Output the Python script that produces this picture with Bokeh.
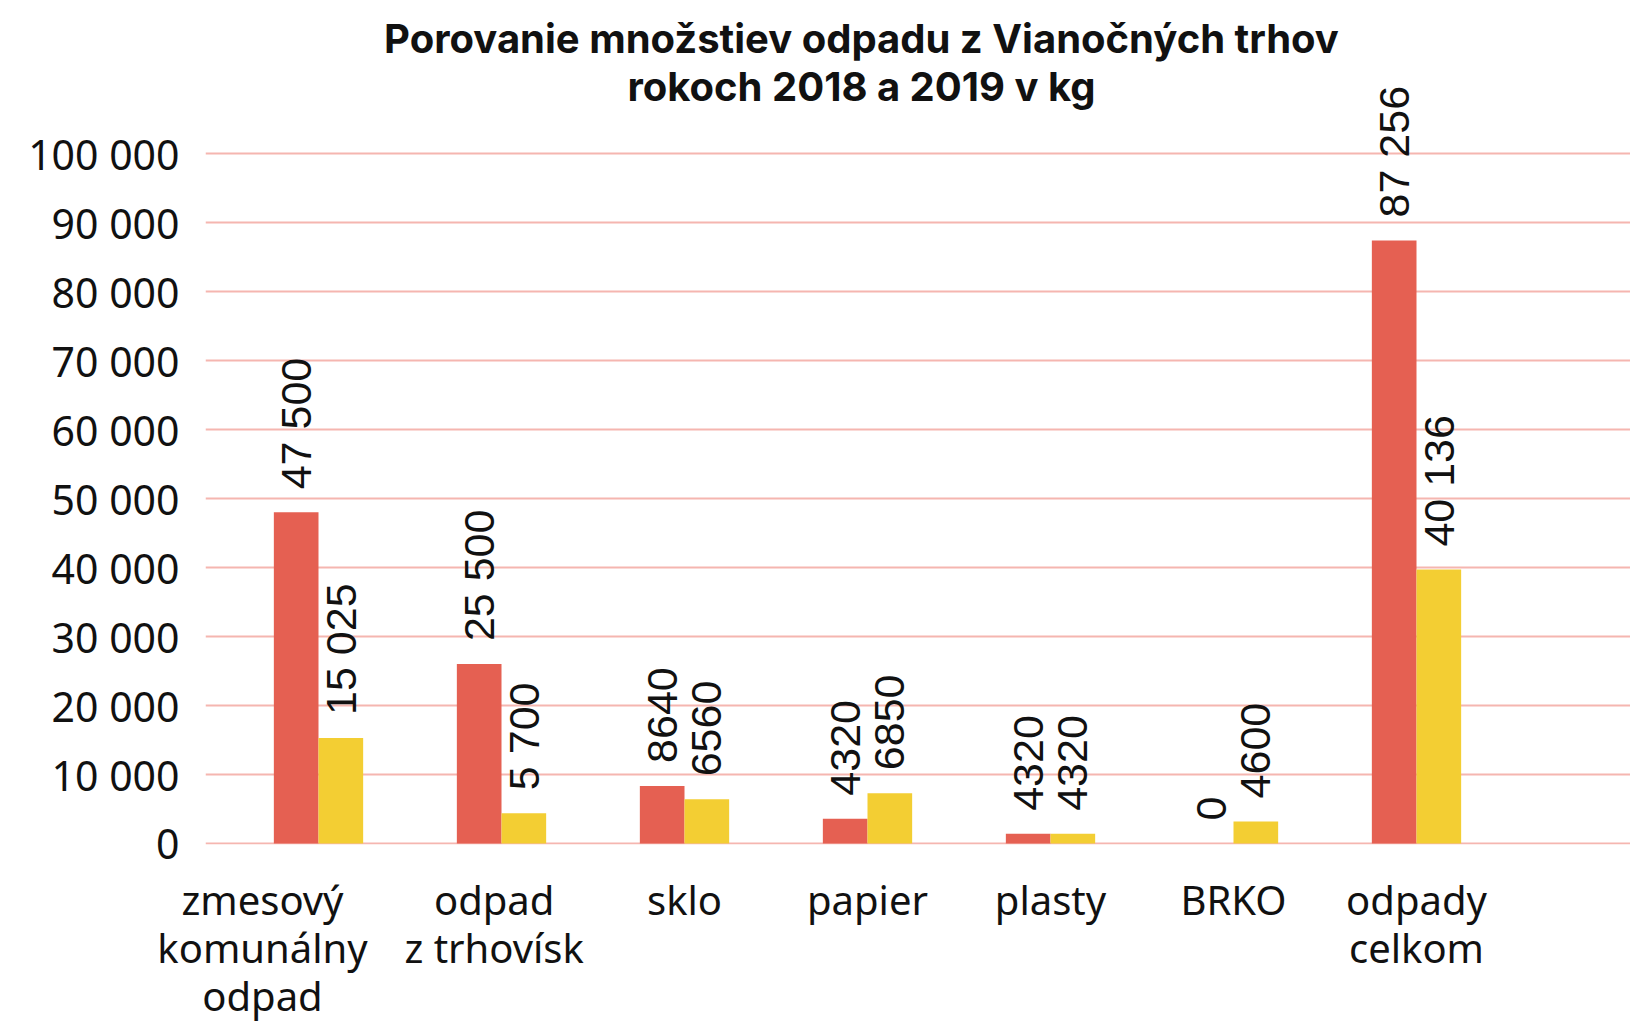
import numpy as np
from bokeh.plotting import figure
from bokeh.models import Range1d, FixedTicker, Label, ColumnDataSource
from bokeh.core.properties import value
from bokeh.embed import file_html
from bokeh.resources import INLINE

# ---- data ----
categories = ["zmesový\nkomunálny\nodpad", "odpad\nz trhovísk", "sklo", "papier",
              "plasty", "BRKO", "odpady\ncelkom"]
# bar heights as drawn in the picture (kg)
values_2018 = [48000, 26000, 8350, 3600, 1400, 0, 87400]
values_2019 = [15300, 4400, 6400, 7300, 1400, 3200, 39700]
# data labels as printed on the picture
labels_2018 = ["47 500", "25 500", "8640", "4320", "4320", "0", "87 256"]
labels_2019 = ["15 025", "5 700", "6560", "6850", "4320", "4600", "40 136"]
y_ticks = [0, 10000, 20000, 30000, 40000, 50000, 60000, 70000, 80000, 90000, 100000]
y_tick_labels = ["0", "10 000", "20 000", "30 000", "40 000", "50 000", "60 000",
                 "70 000", "80 000", "90 000", "100 000"]
title_lines = ["Porovanie množstiev odpadu z Vianočných trhov", "rokoch 2018 a 2019 v kg"]

# layout-only: horizontal nudge of category labels (in category units)
label_nudge = [-0.306, -0.04, 0, 0, 0, 0, 0]

RED = "#e56052"
YELLOW = "#f3ce33"
GRID = "#f5b6b0"
BW = 0.244

xs = np.arange(len(categories))
src = ColumnDataSource(dict(
    x18=xs - BW / 2, x19=xs + BW / 2,
    v18=values_2018, v19=values_2019,
    l18=labels_2018, l19=labels_2019,
))

p = figure(width=1630, height=1026, output_backend="svg", toolbar_location=None,
           x_range=Range1d(-0.6175, 7.1694), y_range=Range1d(-145, 122176),
           min_border_left=205, min_border_right=0, min_border_top=0,
           min_border_bottom=182)
p.outline_line_color = None
p.background_fill_color = "white"
p.border_fill_color = "white"

p.vbar(x="x18", top="v18", width=BW, fill_color=RED, line_color=None, source=src)
p.vbar(x="x19", top="v19", width=BW, fill_color=YELLOW, line_color=None, source=src)

for xcol, ycol, lcol in (("x18", "v18", "l18"), ("x19", "v19", "l19")):
    p.text(x=xcol, y=ycol, text=lcol, source=src, angle=np.pi / 2,
           text_align="left", text_baseline="middle", y_offset=-23,
           text_font=value("Liberation Sans"), text_font_size="43px",
           text_color="#111111")

# grid
p.xgrid.visible = False
p.ygrid.ticker = FixedTicker(ticks=y_ticks)
p.ygrid.grid_line_color = GRID
p.ygrid.grid_line_width = 2

# y axis
p.yaxis.ticker = FixedTicker(ticks=y_ticks)
p.yaxis.major_label_overrides = {t: l for t, l in zip(y_ticks, y_tick_labels)}
p.yaxis.axis_line_color = None
p.yaxis.major_tick_line_color = None
p.yaxis.minor_tick_line_color = None
p.yaxis.major_tick_out = 0
p.yaxis.major_tick_in = 0
p.yaxis.major_label_standoff = 26
p.yaxis.major_label_text_font = "Noto Sans"
p.yaxis.major_label_text_font_size = "41px"
p.yaxis.major_label_text_color = "#111111"

# x axis (category labels)
label_pos = [float(round(i + d, 3)) for i, d in zip(xs, label_nudge)]
p.xaxis.ticker = FixedTicker(ticks=label_pos)
p.xaxis.major_label_overrides = {lp: c for lp, c in zip(label_pos, categories)}
p.xaxis.axis_line_color = None
p.xaxis.major_tick_line_color = None
p.xaxis.minor_tick_line_color = None
p.xaxis.major_tick_out = 0
p.xaxis.major_tick_in = 0
p.xaxis.major_label_standoff = 27
p.xaxis.major_label_text_font = "Noto Sans"
p.xaxis.major_label_text_font_size = "40px"
p.xaxis.major_label_text_line_height = 0.88
p.xaxis.major_label_text_color = "#111111"

# title
for txt, ty in zip(title_lines, (116597, 109712)):
    p.add_layout(Label(x=2.967, y=ty, text=txt, text_align="center",
                       text_baseline="middle", text_font="Inter",
                       text_font_style="bold", text_font_size="40px",
                       text_color="#111111"))

open("out.html", "w").write(file_html(p, INLINE))
